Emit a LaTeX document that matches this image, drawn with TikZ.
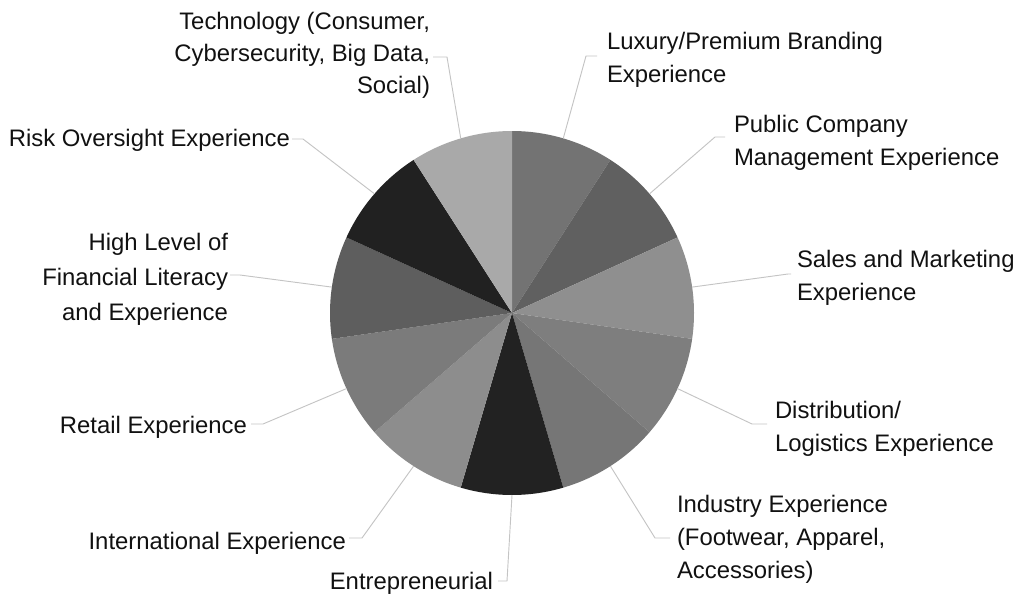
\documentclass[tikz,border=0pt]{standalone}
\usepackage{fontspec}
\setmainfont{Liberation Sans}
\definecolor{sA}{HTML}{737373}
\definecolor{sB}{HTML}{606060}
\definecolor{sC}{HTML}{8F8F8F}
\definecolor{sD}{HTML}{7E7E7E}
\definecolor{sE}{HTML}{767676}
\definecolor{sF}{HTML}{222222}
\definecolor{sG}{HTML}{8D8D8D}
\definecolor{sH}{HTML}{7B7B7B}
\definecolor{sI}{HTML}{5E5E5E}
\definecolor{sJ}{HTML}{212121}
\definecolor{sK}{HTML}{A9A9A9}
\definecolor{leadc}{HTML}{C4C4C4}
\definecolor{txtc}{HTML}{111111}
\begin{document}
\begin{tikzpicture}[x=0.75pt,y=0.75pt,
  lbl/.style={inner sep=0pt, outer sep=0pt, text=txtc, font=\fontsize{17.9pt}{24.75pt}\selectfont},
  lbll/.style={lbl, align=left, anchor=base west},
  lblr/.style={lbl, align=right, anchor=base east},
  leader/.style={draw=leadc, line width=0.7pt}]
\useasboundingbox (0,0) rectangle (1016,594);
\coordinate (c) at (512,281);
% slices
\def\R{136.5pt}
\fill[sA] (c) -- ++(90:\R) arc[start angle=90, end angle=57.273, radius=\R] -- cycle;
\fill[sB] (c) -- ++(57.273:\R) arc[start angle=57.273, end angle=24.545, radius=\R] -- cycle;
\fill[sC] (c) -- ++(24.545:\R) arc[start angle=24.545, end angle=-8.182, radius=\R] -- cycle;
\fill[sD] (c) -- ++(-8.182:\R) arc[start angle=-8.182, end angle=-40.909, radius=\R] -- cycle;
\fill[sE] (c) -- ++(-40.909:\R) arc[start angle=-40.909, end angle=-73.636, radius=\R] -- cycle;
\fill[sF] (c) -- ++(-73.636:\R) arc[start angle=-73.636, end angle=-106.364, radius=\R] -- cycle;
\fill[sG] (c) -- ++(-106.364:\R) arc[start angle=-106.364, end angle=-139.091, radius=\R] -- cycle;
\fill[sH] (c) -- ++(-139.091:\R) arc[start angle=-139.091, end angle=-171.818, radius=\R] -- cycle;
\fill[sI] (c) -- ++(-171.818:\R) arc[start angle=-171.818, end angle=-204.545, radius=\R] -- cycle;
\fill[sJ] (c) -- ++(-204.545:\R) arc[start angle=-204.545, end angle=-237.273, radius=\R] -- cycle;
\fill[sK] (c) -- ++(-237.273:\R) arc[start angle=-237.273, end angle=-270, radius=\R] -- cycle;
% edge points
\coordinate (e1) at ([shift={(73.636:\R)}]c);
\coordinate (e2) at ([shift={(40.909:\R)}]c);
\coordinate (e3) at ([shift={(8.182:\R)}]c);
\coordinate (e4) at ([shift={(-24.545:\R)}]c);
\coordinate (e5) at ([shift={(-57.273:\R)}]c);
\coordinate (e6) at ([shift={(-90:\R)}]c);
\coordinate (e7) at ([shift={(-122.727:\R)}]c);
\coordinate (e8) at ([shift={(-155.455:\R)}]c);
\coordinate (e9) at ([shift={(171.818:\R)}]c);
\coordinate (e10) at ([shift={(139.091:\R)}]c);
\coordinate (e11) at ([shift={(106.364:\R)}]c);
% elbows and ends
\coordinate (k1) at (586,538);  \coordinate (f1) at (597,538);
\coordinate (k2) at (715,457);  \coordinate (f2) at (725,457);
\coordinate (k3) at (788,320);  \coordinate (f3) at (791,320);
\coordinate (k4) at (752,170);  \coordinate (f4) at (767,170);
\coordinate (k5) at (655,56);   \coordinate (f5) at (670,56);
\coordinate (k6) at (507,13);   \coordinate (f6) at (498,13);
\coordinate (k7) at (362,56);   \coordinate (f7) at (349,56);
\coordinate (k8) at (263,170);  \coordinate (f8) at (251,170);
\coordinate (k9) at (240,319);  \coordinate (f9) at (230,319);
\coordinate (k10) at (303,455); \coordinate (f10) at (292,455);
\coordinate (k11) at (447,537); \coordinate (f11) at (433,537);
% labels (base anchor = baseline of last line)
\node[lbll] (t1) at (607,511) {Luxury/Premium Branding\\Experience};
\node[lbll] (t2) at (734,429) {Public Company\\Management Experience};
\node[lbll] (t3) at (797,293.3) {Sales and Marketing\\Experience};
\node[lbll] (t4) at (775,142.3) {Distribution/\\Logistics Experience};
\node[lbll] (t5) at (677,15.7) {Industry Experience\\(Footwear, Apparel,\\Accessories)};
\node[lblr] (t6) at (493,4.5) {Entrepreneurial};
\node[lblr] (t7) at (346,45) {International Experience};
\node[lblr] (t8) at (247,160.7) {Retail Experience};
\node[lblr, font=\fontsize{17.9pt}{26pt}\selectfont] (t9) at (228,274) {High Level of\\Financial Literacy\\and Experience};
\node[lblr] (t10) at (290,447.3) {Risk Oversight Experience};
\node[lblr, font=\fontsize{17.9pt}{24pt}\selectfont] (t11) at (430,500) {Technology (Consumer,\\Cybersecurity, Big Data,\\Social)};
% leaders
\foreach \i in {1,...,11} {
  \draw[leader] (e\i) -- (k\i) -- (f\i);
}
\end{tikzpicture}
\end{document}
